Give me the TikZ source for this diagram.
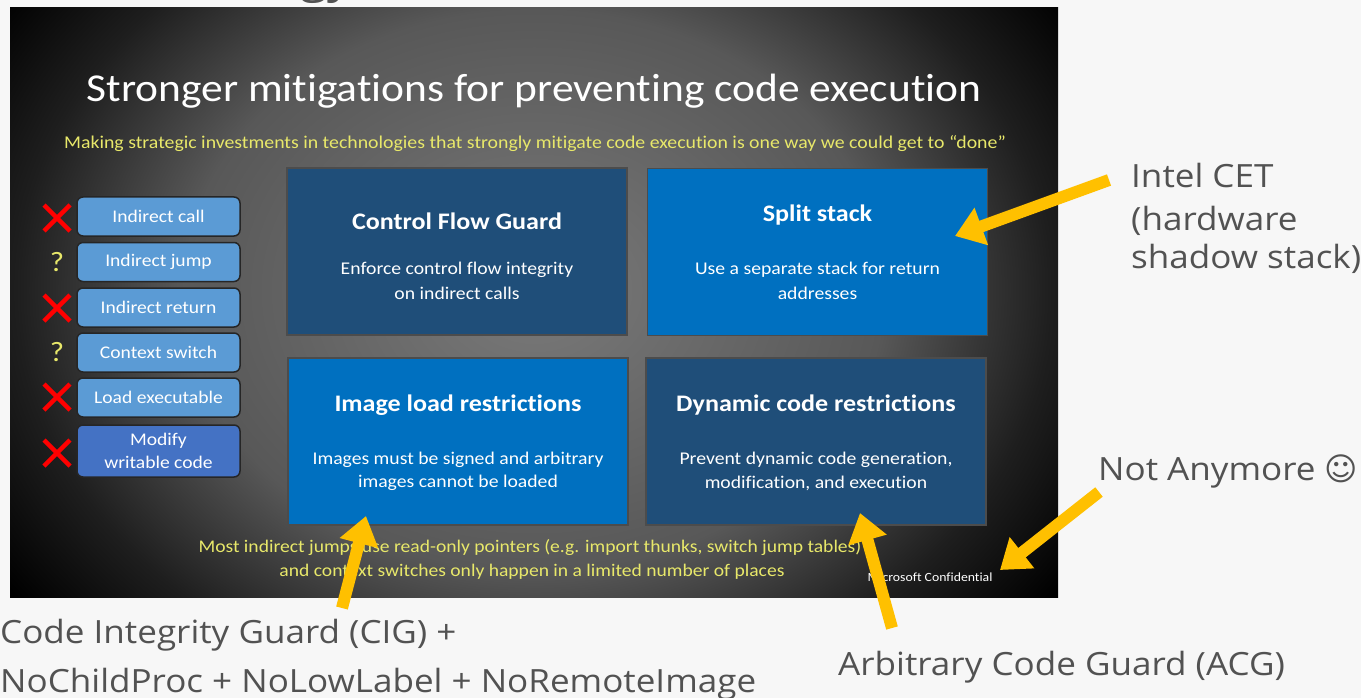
\documentclass[tikz,border=0pt]{standalone}
\usepackage{fontspec}
\setmainfont{Carlito}[Ligatures=NoCommon, FakeStretch=1.1]
\newfontfamily\annotfont{Open Sans}[FakeStretch=1.095]
\newfontfamily\symfont{DejaVu Sans}
\usetikzlibrary{arrows.meta}
\definecolor{pagebg}{HTML}{F7F7F7}
\definecolor{lblue}{HTML}{5B9BD5}
\definecolor{mblue}{HTML}{4472C4}
\definecolor{dblue}{HTML}{1F4E79}
\definecolor{bblue}{HTML}{0070C0}
\definecolor{ylw}{HTML}{E8E86A}
\definecolor{amber}{HTML}{FFC000}
\definecolor{annotgray}{HTML}{525252}
\definecolor{slidec}{HTML}{7A7A7A}
\definecolor{slideb}{HTML}{585858}
\definecolor{slidea}{HTML}{1E1E1E}
\pgfdeclareradialshading{slideshade}{\pgfpoint{0bp}{0bp}}{color(0bp)=(slidec); color(12.5bp)=(slideb); color(18.5bp)=(slidea); color(23bp)=(black); color(25bp)=(black); color(50bp)=(black)}
\tikzset{
  smallbox/.style={draw=black!85, line width=1.5pt, rounded corners=6pt, fill=lblue, text=white,
    font=\fontsize{17.8}{19}\selectfont, minimum width=163pt, minimum height=39pt, inner sep=0pt, align=center},
  bigbox/.style={draw=black!70, line width=1.2pt, minimum width=340pt, minimum height=167pt, inner sep=0pt},
  boxtitle/.style={text=white, font=\fontsize{23.7}{27}\selectfont\bfseries},
  boxsub/.style={text=white, font=\fontsize{17.9}{20}\selectfont},
  ytext/.style={text=ylw, font=\fontsize{17.8}{20}\selectfont},
  annot/.style={text=annotgray, font=\annotfont\fontsize{32}{38}\selectfont, anchor=base west, inner sep=0pt},
  qmark/.style={text=ylw, font=\fontsize{28}{30}\selectfont},
  yarrow/.style={draw=amber, line width=12pt, -{Triangle[length=28pt,width=38pt]}},
  redx/.pic={\draw[red, line width=4.5pt] (-13,-13)--(13,13) (-13,13)--(13,-13);}
}
\begin{document}
\begin{tikzpicture}[x=1pt,y=-1pt]
\useasboundingbox (0,0) rectangle (1361,698);
\fill[pagebg] (0,0) rectangle (1361,698);
% cut-off heading fragment
\begin{scope}
  \clip (0,0) rectangle (1361,8);
  \node[annot, font=\annotfont\fontsize{46}{50}\selectfont] (frag) at (300,-7) {gy};
\end{scope}
% slide background
\begin{scope}
  \clip (10,8) rectangle (1058,597);
  \shade[shading=slideshade] (-166,-270) rectangle (1234,850);
\end{scope}
% titles
\node[text=white, font=\fontsize{39.5}{48}\selectfont] (title) at (534,91) {Stronger mitigations for preventing code execution};
\node[ytext, font=\fontsize{18}{20}\selectfont] (subtitle) at (535,144) {Making strategic investments in technologies that strongly mitigate code execution is one way we could get to ``done''};
% left boxes
\node[smallbox] (b1) at (158.5,216.5) {Indirect call};
\node[smallbox] (b2) at (158.5,262) {Indirect jump};
\node[smallbox] (b3) at (158.5,307.5) {Indirect return};
\node[smallbox] (b4) at (158.5,352.5) {Context switch};
\node[smallbox] (b5) at (158.5,397.5) {Load executable};
\node[smallbox, fill=mblue, minimum height=52pt, font=\fontsize{17.8}{23}\selectfont] (b6) at (158.5,451) {Modify\\writable code};
\pic at (57,218) {redx};
\node[qmark] (q1) at (57,262) {?};
\pic at (57,308) {redx};
\node[qmark] (q2) at (57,352) {?};
\pic at (57,397) {redx};
\pic at (57,453) {redx};
% big boxes
\node[bigbox, fill=dblue] (cfg) at (457,251.5) {};
\node[bigbox, fill=bblue] (split) at (817.5,252) {};
\node[bigbox, fill=bblue] (imgload) at (458,441.5) {};
\node[bigbox, fill=dblue] (dyncode) at (816,441.5) {};
\node[boxtitle] (cfgt) at (457,221) {Control Flow Guard};
\node[boxsub] (cfgs1) at (457,270) {Enforce control flow integrity};
\node[boxsub] (cfgs2) at (457,293) {on indirect calls};
\node[boxtitle] (splitt) at (817.5,215) {Split stack};
\node[boxsub] (splits1) at (817.5,270) {Use a separate stack for return};
\node[boxsub] (splits2) at (817.5,293) {addresses};
\node[boxtitle] (imgt) at (458,405) {Image load restrictions};
\node[boxsub] (imgs1) at (458,460) {Images must be signed and arbitrary};
\node[boxsub] (imgs2) at (458,483) {images cannot be loaded};
\node[boxtitle] (dynt) at (816,405) {Dynamic code restrictions};
\node[boxsub] (dyns1) at (816,460) {Prevent dynamic code generation,};
\node[boxsub] (dyns2) at (816,483) {modification, and execution};
% bottom notes
\node[ytext] (note1) at (530,548) {Most indirect jumps use read-only pointers (e.g. import thunks, switch jump tables)};
\node[ytext] (note2) at (532,572) {and context switches only happen in a limited number of places};
\node[text=white, font=\fontsize{12.5}{14}\selectfont, anchor=east] (conf) at (996,577) {Microsoft Confidential};
% annotations
\node[annot] (cet1) at (1131,188) {Intel CET};
\node[annot] (cet2) at (1131,230) {(hardware};
\node[annot] (cet3) at (1131,268) {shadow stack)};
\node[annot] (notany) at (1098,480) {Not Anymore {\symfont\char"263A}};
\node[annot] (cig1) at (0,643) {Code Integrity Guard (CIG) +};
\node[annot] (cig2) at (0,692) {NoChildProc + NoLowLabel + NoRemoteImage};
\node[annot] (acg) at (838,675) {Arbitrary Code Guard (ACG)};
% arrows
\coordinate (cetTail) at (1109,180);
\coordinate (cetTip) at (955,236);
\coordinate (cigTail) at (342,608);
\coordinate (cigTip) at (366,516);
\coordinate (acgTail) at (892,628);
\coordinate (acgTip) at (860,513);
\coordinate (naTail) at (1099,492);
\coordinate (naTip) at (1000,570);
\draw[yarrow] (cetTail) -- (cetTip);
\draw[yarrow] (cigTail) -- (cigTip);
\draw[yarrow] (acgTail) -- (acgTip);
\draw[yarrow] (naTail) -- (naTip);
\end{tikzpicture}
\end{document}
